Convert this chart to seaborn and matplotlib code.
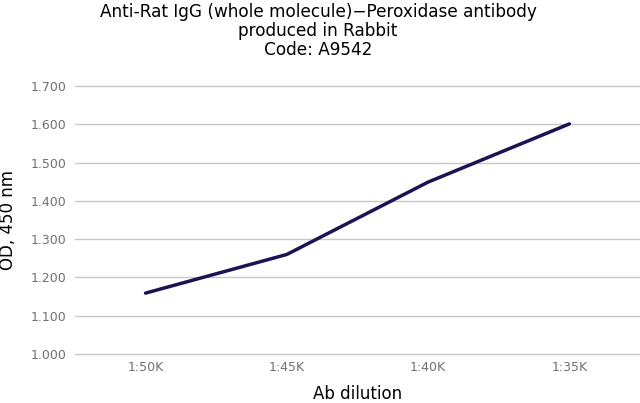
import matplotlib
matplotlib.use("Agg")
import matplotlib.pyplot as plt
import seaborn as sns
import pandas as pd

dilutions = ["1:50K", "1:45K", "1:40K", "1:35K"]
od_values = [1.159, 1.260, 1.449, 1.601]
y_ticks = [1.0, 1.1, 1.2, 1.3, 1.4, 1.5, 1.6, 1.7]

title = "Anti-Rat IgG (whole molecule)\u2212Peroxidase antibody\nproduced in Rabbit\nCode: A9542"

sns.set_theme(style="white")
plt.rcParams["font.family"] = ["DejaVu Sans"]

df = pd.DataFrame({"dilution": dilutions, "od": od_values})

fig = plt.figure(figsize=(6.4, 4.03), dpi=100)
ax = fig.add_axes([0.117, 0.1216, 0.883, 0.665])

for t in y_ticks:
    ax.axhline(t, color="#c8c8c8", linewidth=1.0, zorder=0, clip_on=False)

sns.lineplot(data=df, x="dilution", y="od", ax=ax, color="#1b1452",
             linewidth=2.5, sort=False, zorder=3)

ax.set_xlim(-0.5, len(dilutions) - 0.5)
ax.set_ylim(1.0, 1.7)
ax.set_yticks(y_ticks)
ax.set_yticklabels([f"{t:.3f}" for t in y_ticks])
ax.tick_params(axis="both", labelsize=9, colors="#707070", length=0, pad=6)
ax.tick_params(axis="x", pad=5)
for s in ax.spines.values():
    s.set_visible(False)

ax.set_xlabel("Ab dilution", fontsize=12, color="black", labelpad=8)
ax.set_ylabel("OD, 450 nm", fontsize=12, color="black", labelpad=10)

fig.text(0.497, 0.992, title, ha="center", va="top", fontsize=12.2,
         color="black", linespacing=1.08)

fig.savefig("out.png", dpi=100, facecolor="white")
